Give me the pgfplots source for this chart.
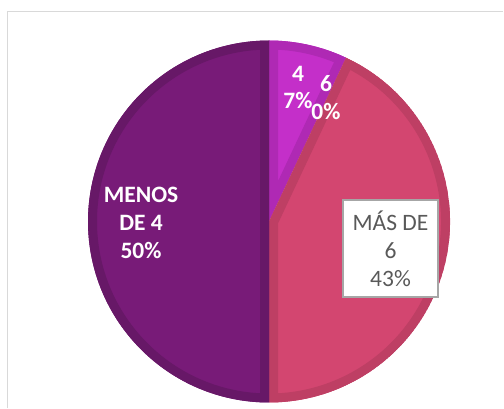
\documentclass[border=0pt]{standalone}
\usepackage{pgfplots}
\pgfplotsset{compat=1.18}
\usepackage{pgfplotstable}
\usepackage{fontspec}
\setmainfont{Carlito}

\definecolor{cMag}{HTML}{C42FC9}
\definecolor{cMagB}{HTML}{AF29B4}
\definecolor{cPink}{HTML}{D34670}
\definecolor{cPinkB}{HTML}{BE3F64}
\definecolor{cPur}{HTML}{781B78}
\definecolor{cPurB}{HTML}{671867}
\definecolor{cFrame}{HTML}{D9D9D9}
\definecolor{cTxt}{HTML}{595959}
\definecolor{cBox}{HTML}{A6A6A6}

\pgfplotstableread{
label value
4 7
6 0
MASDE6 43
MENOSDE4 50
}\piedata

\pgfplotstablegetelem{0}{value}\of\piedata \let\vA\pgfplotsretval
\pgfplotstablegetelem{1}{value}\of\piedata \let\vB\pgfplotsretval
\pgfplotstablegetelem{2}{value}\of\piedata \let\vC\pgfplotsretval
\pgfplotstablegetelem{3}{value}\of\piedata \let\vD\pgfplotsretval
\pgfmathsetmacro\aA{90}
\pgfmathsetmacro\aB{\aA-3.6*\vA}
\pgfmathsetmacro\aC{\aB-3.6*\vB}
\pgfmathsetmacro\aD{\aC-3.6*\vC}
\pgfmathsetmacro\aE{\aD-3.6*\vD}

\newcommand\slice[4]{%
  \begin{scope}
    \clip (axis cs:269,187.5) -- ++(#1:181bp) arc[start angle=#1,end angle=#2,radius=181bp] -- cycle;
    \fill[#3] (axis cs:269,187.5) -- ++(#1:181bp) arc[start angle=#1,end angle=#2,radius=181bp] -- cycle;
    \draw[#4, line width=18bp, line join=miter] (axis cs:269,187.5) -- ++(#1:181bp) arc[start angle=#1,end angle=#2,radius=181bp] -- cycle;
  \end{scope}}

\begin{document}
\begin{tikzpicture}
\path[use as bounding box] (0,0) rectangle (504bp,409bp);
\begin{axis}[
  scale only axis, width=504bp, height=409bp,
  xmin=0, xmax=504, ymin=0, ymax=409,
  hide axis, clip=true,
]
\draw[cFrame, line width=1.3bp] (axis cs:7.5,0.7) -- (axis cs:7.5,397.5) -- (axis cs:503,397.5);
\slice{\aA}{\aB}{cMag}{cMagB}
\slice{\aC}{\aD}{cPink}{cPinkB}
\slice{\aD}{\aE}{cPur}{cPurB}
\node[align=center, text=white, font=\bfseries\fontsize{23.5bp}{27bp}\selectfont] at (axis cs:298,322) {4\\7\%};
\node[align=center, text=white, font=\bfseries\fontsize{23.5bp}{28bp}\selectfont] at (axis cs:326,311) {6\\0\%};
\node[align=center, text=white, font=\bfseries\fontsize{23.5bp}{28bp}\selectfont] at (axis cs:141,186) {MENOS\\DE 4\\50\%};
\node[align=center, text=cTxt, fill=white, draw=cBox, line width=1.5bp, minimum width=95bp, minimum height=97bp, inner sep=0pt, font=\fontsize{23.5bp}{28bp}\selectfont] at (axis cs:390.5,160.5) {MÁS DE\\6\\43\%};
\end{axis}
\end{tikzpicture}
\end{document}
